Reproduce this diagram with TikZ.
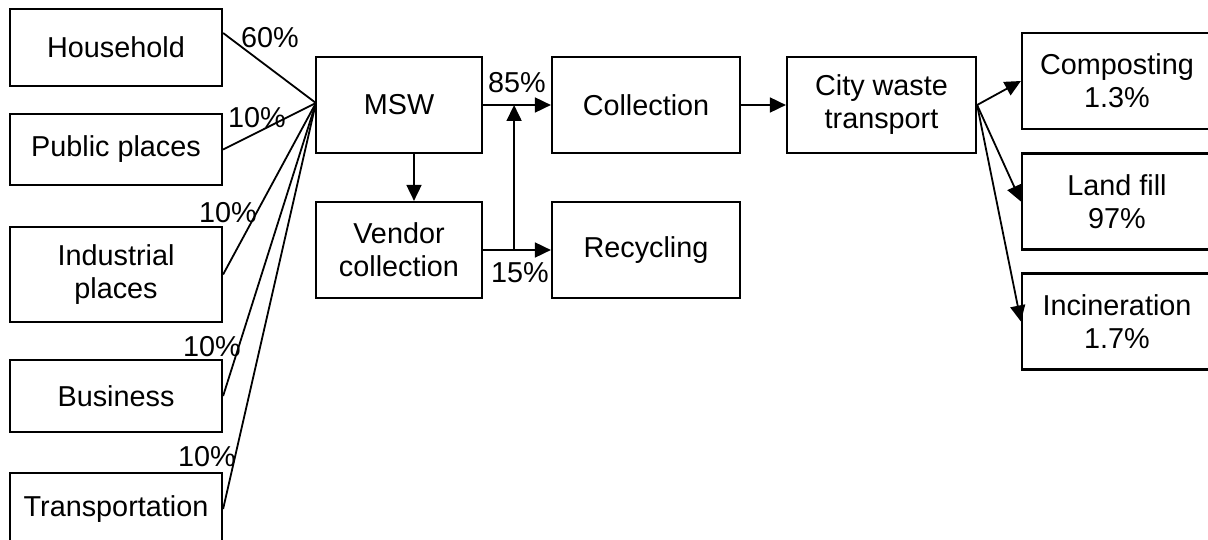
\documentclass[tikz,border=0pt]{standalone}
\usepackage{fontspec}
\setmainfont{Liberation Sans}
\usetikzlibrary{arrows.meta}
\tikzstyle{txt}=[font=\fontsize{28.8}{33}\selectfont]
\tikzstyle{box}=[txt,
                 draw,
                 line width=2.2pt,
                 inner sep=0pt,
                 align=center,
                 minimum height=96pt]
\tikzstyle{src}=[box,minimum width=212pt]
\tikzstyle{mid}=[box,minimum width=166pt]
\tikzstyle{stage}=[box,minimum width=188pt]
\tikzstyle{sink}=[box,minimum width=190pt]
\tikzstyle{pct}=[txt,inner sep=0pt]
\tikzstyle{feed}=[line width=1.8pt]
\tikzstyle{flow}=[line width=1.8pt,-{Triangle[length=16pt,width=15pt]}]

\begin{document}
\begin{tikzpicture}[x=1pt,y=1pt]
    \fill[white] (0,0) rectangle (1208,-540);
    \useasboundingbox (0,0) rectangle (1208,-540);
    % sources
    \node[src,minimum height=77pt] (household) at (116,-47.5) {Household};
    \node[src,minimum height=71pt,below of=household,node distance=102pt] (public) {Public places};
    \node[src,minimum height=95pt,below of=public,node distance=125pt] (industrial) {Industrial\\places};
    \node[src,minimum height=72pt,below of=industrial,node distance=121.5pt] (business) {Business};
    \node[src,minimum height=72pt,below of=business,node distance=113pt] (transport) {Transportation};
    % middle
    \node[mid] (msw) at (399,-105) {MSW};
    \node[mid,below of=msw,node distance=145pt] (vendor) {Vendor\\collection};
    \node[stage,right of=msw,node distance=247pt] (collection) {Collection};
    \node[stage,right of=vendor,node distance=247pt] (recycling) {Recycling};
    \node[stage,minimum width=189pt,right of=collection,node distance=235.5pt] (city) {City waste\\transport};
    % disposal
    \node[sink] (composting) at (1117,-81) {Composting\\1.3\%};
    \node[sink,below of=composting,node distance=120.5pt] (landfill) {Land fill\\97\%};
    \node[sink,below of=landfill,node distance=120pt] (incineration) {Incineration\\1.7\%};

    \coordinate (hub) at ([xshift=1pt,yshift=2pt]msw.west);
    \draw[feed] ([yshift=14.5pt]household.east) -- (hub);
    \draw[feed] (public.east) -- (hub);
    \draw[feed] (industrial.east) -- (hub);
    \draw[feed] (business.east) -- (hub);
    \draw[feed] (transport.east) -- (hub);

    \node[pct] (p60) at (270,-38) {60\%};
    \node[pct] (ppublic) at (257,-118) {10\%};
    \node[pct] (pindustrial) at (228,-213) {10\%};
    \node[pct] (pbusiness) at (212,-347) {10\%};
    \node[pct] (ptransport) at (207,-457) {10\%};
    \node[pct] (p85) at (517,-83) {85\%};
    \node[pct] (p15) at (520,-273) {15\%};

    \draw[flow] (msw) -- (collection);
    \draw[flow] ([xshift=15pt]msw.south) -- ([xshift=15pt]vendor.north);
    \draw[flow] (vendor) -- (recycling);
    \draw[flow] ([xshift=31pt]vendor.east) -- ([xshift=31pt]msw.east);
    \draw[flow] (collection) -- (city);
    \draw[flow] (city.east) -- (composting.west);
    \draw[flow] (city.east) -- (landfill.west);
    \draw[flow] (city.east) -- (incineration.west);
\end{tikzpicture}
\end{document}
